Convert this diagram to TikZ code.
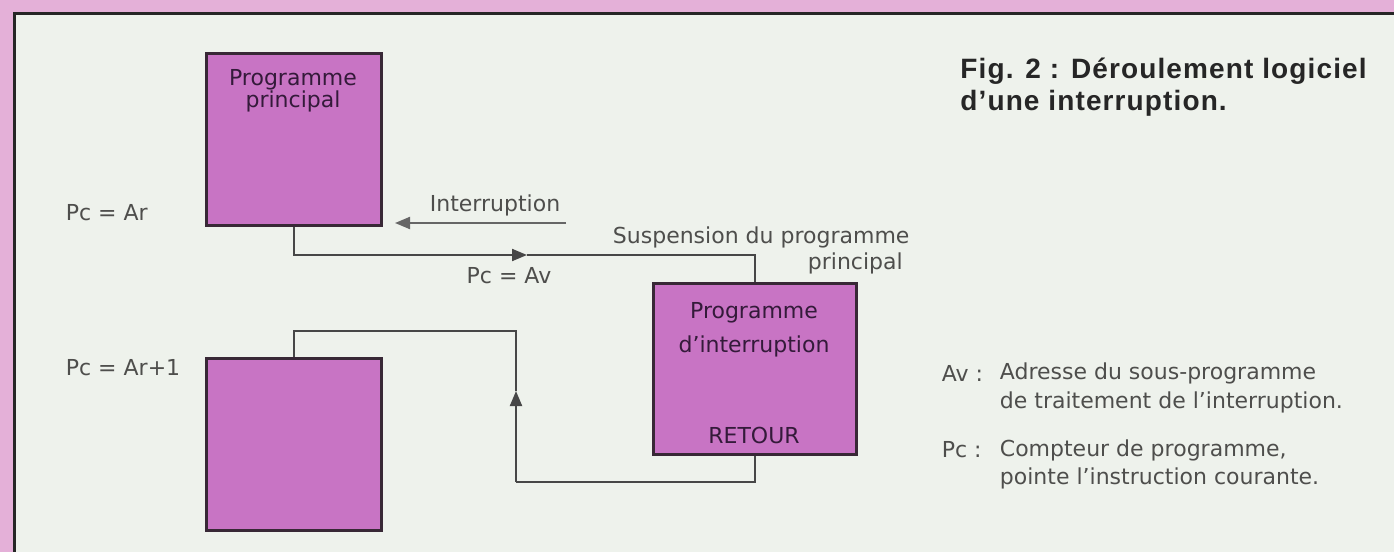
\documentclass[tikz,border=0pt]{standalone}
\usepackage{fontspec}
\setmainfont{DejaVu Sans}
\newfontfamily\titlefont[LetterSpace=4]{Liberation Sans}
\usepackage{tikz}
\usetikzlibrary{arrows.meta}

\definecolor{stripepink}{RGB}{228,176,216}
\definecolor{paper}{RGB}{238,242,236}
\definecolor{boxfill}{RGB}{200,116,196}
\definecolor{boxline}{RGB}{56,40,54}
\definecolor{inkgray}{RGB}{78,78,76}
\definecolor{boxink}{RGB}{52,26,58}

\tikzset{
  prog/.style={draw=boxline, fill=boxfill, line width=1.5pt, inner sep=0pt},
  lbl/.style={text=inkgray, inner sep=0.75pt, font=\fontsize{11}{13}\selectfont},
  boxlbl/.style={text=boxink, inner sep=0.75pt, align=center},
  flow/.style={draw=black!72, line width=1pt},
  tip/.style={-{Triangle[length=7.5pt,width=6pt]}}
}

\begin{document}
\begin{tikzpicture}[x=0.5pt,y=0.5pt,yscale=-1,xscale=1]
\useasboundingbox (0,0) rectangle (1394,552);

%Frame: pink border and paper
\fill[stripepink] (0,0) rectangle (1394,552);
\fill[paper] (14,13) rectangle (1394,552);
\draw[line width=1.5pt, black!85] (14,552) -- (14,13) -- (1394,13);

%Shape: Boxes
\node[prog, minimum width=87.5pt, minimum height=86pt] (main) at (293.5,139) {};
\node[prog, minimum width=87.5pt, minimum height=86pt] (cont) at (293.5,444) {};
\node[prog, minimum width=101.5pt, minimum height=85.5pt] (isr) at (754.5,368.5) {};

% Text Node
\node[boxlbl, font=\fontsize{11}{11}\selectfont] (mainlbl) at (293,91) {Programme\\principal};
\node[boxlbl, font=\fontsize{11}{17}\selectfont] (isrlbl) at (754,330) {Programme\\d'interruption};
\node[boxlbl, font=\fontsize{11}{13}\selectfont] (retlbl) at (754,435) {RETOUR};

%Straight Lines: interrupt request
\coordinate (irqsrc) at (566,223);
\coordinate (irqtip) at (395,223);
\draw[flow, black!60, tip] (irqsrc) -- (irqtip);

%Straight Lines: jump to the interrupt routine
\coordinate (avmark) at (527,255);
\draw[flow, tip] (main.south) |- (avmark);
\draw[flow] (avmark) -| (isr.north);

%Straight Lines: return
\coordinate (retcorner) at (516,482);
\coordinate (retmark) at (516,391);
\coordinate (rettop) at (516,331);
\draw[flow] (isr.south) |- (retcorner);
\draw[flow, tip] (retcorner) -- (retmark);
\draw[flow] (retmark) -- (rettop) -| (cont.north);

% Text Node
\node[lbl, anchor=west] (pcar) at (64,213) {Pc = Ar};
\node[lbl, anchor=west] (pcarnext) at (64,368) {Pc = Ar+1};
\node[lbl] (irqlbl) at (495,205) {Interruption};
\node[lbl, anchor=west] (susplbl) at (611,237) {Suspension du programme};
\node[lbl, anchor=west] (susplbltwo) at (806,263) {principal};
\node[lbl] (pcav) at (509,276) {Pc = Av};

% Text Node: legend
\node[lbl, anchor=west] (avkey) at (940,373) {Av :};
\node[lbl, anchor=west, align=left, font=\fontsize{11}{14.5}\selectfont] (avtext) at (998,387.5) {Adresse du sous-programme\\de traitement de l'interruption.};
\node[lbl, anchor=west] (pckey) at (940,450) {Pc :};
\node[lbl, anchor=west, align=left, font=\fontsize{11}{14}\selectfont] (pctext) at (998,464) {Compteur de programme,\\pointe l'instruction courante.};

% Text Node: caption
\node[anchor=north west, inner sep=0pt, align=left, text=black!85, font=\titlefont\bfseries\fontsize{14}{16}\selectfont] (caption) at (960,58) {Fig. 2 : Déroulement logiciel\\d’une interruption.};

\end{tikzpicture}
\end{document}
